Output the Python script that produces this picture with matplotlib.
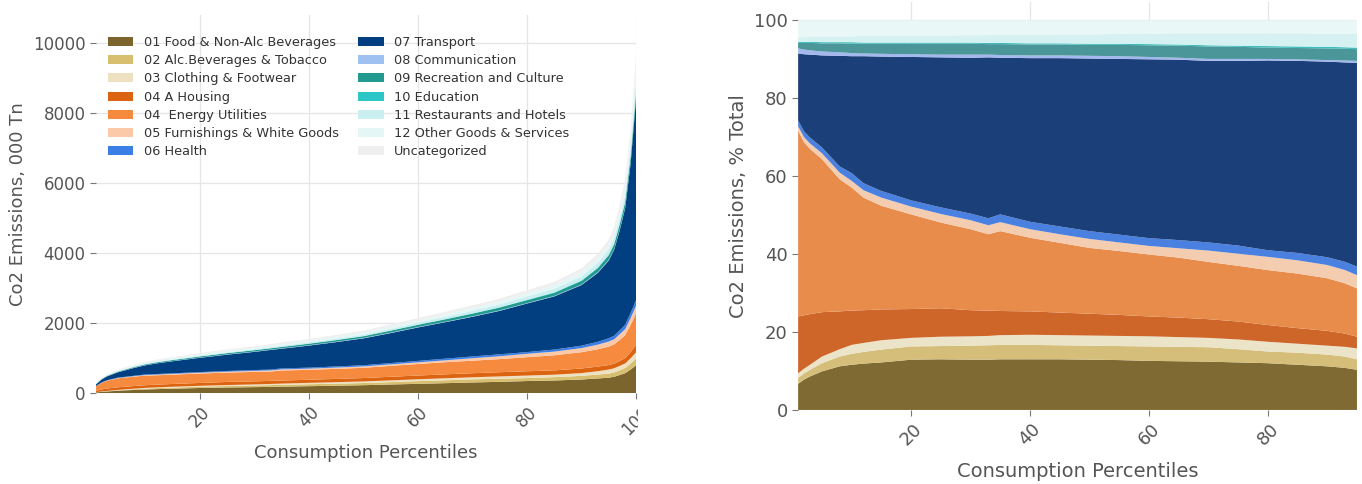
import numpy as np
import matplotlib
matplotlib.use("Agg")
import matplotlib.pyplot as plt
from matplotlib.transforms import Bbox, TransformedBbox

# consumption percentiles where the series were sampled
percentiles = [1, 2, 3, 5, 8, 10, 12, 15, 20, 25, 30, 33, 35, 40, 45, 50, 55, 60,
               65, 70, 75, 80, 85, 90, 93, 95, 96, 97, 98, 99, 100]

# categorised CO2 total per percentile, 000 Tn
total = [270, 420, 520, 650, 790, 870, 930, 1000, 1110, 1210, 1300, 1360, 1400, 1500,
         1610, 1730, 1900, 2080, 2250, 2430, 2620, 2850, 3080, 3450, 3850, 4250, 4600,
         5200, 5900, 7300, 9300]
uncategorized = [8, 10, 12, 15, 18, 20, 22, 25, 30, 33, 36, 38, 40, 43, 47, 50, 55, 60,
                 66, 72, 78, 85, 95, 110, 125, 140, 150, 170, 200, 240, 300]

# upper edge of every band, % of categorised total
food_top = [6.7, 7.8, 8.6, 9.9, 11.2, 11.6, 11.9, 12.2, 12.9, 13.0, 12.9, 12.9, 13.0, 13.0,
            13.0, 12.9, 12.8, 12.6, 12.5, 12.4, 12.2, 12.0, 11.6, 11.2, 10.8, 10.3, 10.1,
            9.9, 9.6, 9.2, 8.5]
alc_top = [8.2, 9.4, 10.3, 12.0, 13.7, 14.4, 14.9, 15.5, 16.3, 16.4, 16.5, 16.6, 16.7, 16.7,
           16.6, 16.5, 16.4, 16.3, 16.2, 16.1, 15.6, 15.0, 14.7, 14.2, 13.7, 13.0, 12.8,
           12.5, 12.1, 11.5, 10.6]
clothing_top = [9.4, 10.6, 11.6, 13.7, 15.6, 16.7, 17.2, 17.9, 18.5, 18.8, 18.9, 19.0, 19.2,
                19.3, 19.2, 19.1, 19.0, 18.9, 18.7, 18.5, 18.1, 17.5, 17.0, 16.5, 16.2, 15.8,
                15.4, 14.9, 14.3, 13.6, 12.5]
housing_top = [24.0, 24.3, 24.6, 25.1, 25.3, 25.5, 25.6, 25.8, 25.9, 26.1, 25.6, 25.5, 25.4,
               25.3, 25.0, 24.7, 24.4, 24.0, 23.7, 23.3, 22.7, 21.8, 21.0, 20.3, 19.6, 18.8,
               18.2, 17.6, 16.9, 16.0, 14.8]
energy_top = [71.7, 68.7, 67.0, 64.4, 59.2, 57.1, 54.5, 52.4, 50.2, 48.1, 46.4, 45.1, 45.9,
              44.2, 42.9, 41.6, 40.8, 39.9, 39.1, 38.0, 37.0, 35.9, 35.0, 33.8, 32.5, 31.2,
              30.2, 29.2, 28.0, 26.6, 24.5]
furnishings_top = [72.8, 70.0, 68.4, 65.9, 60.9, 58.8, 56.4, 54.5, 52.2, 50.3, 48.7, 47.4,
                   48.2, 46.4, 45.1, 43.9, 43.0, 42.1, 41.5, 40.9, 40.1, 39.3, 38.4, 37.2,
                   35.9, 34.6, 33.4, 32.3, 30.9, 29.3, 26.8]
health_top = [74.3, 71.5, 69.9, 67.4, 62.5, 60.8, 58.2, 56.2, 53.8, 52.0, 50.4, 49.2, 50.2,
              48.3, 47.1, 45.9, 45.0, 44.1, 43.6, 43.0, 42.2, 41.0, 40.3, 39.2, 38.0, 36.8,
              35.6, 34.4, 33.0, 31.3, 28.5]
transport_top = [91.5, 91.3, 91.2, 91.0, 90.9, 90.8, 90.8, 90.7, 90.6, 90.5, 90.4, 90.5, 90.4,
                 90.3, 90.3, 90.2, 90.1, 90.0, 89.9, 89.6, 89.6, 89.7, 89.6, 89.4, 89.2, 89.1,
                 89.2, 89.3, 89.5, 89.8, 90.3]
comm_top = [92.8, 92.5, 92.3, 92.0, 91.8, 91.6, 91.5, 91.4, 91.3, 91.2, 91.2, 91.2, 91.1,
            91.0, 91.0, 90.9, 90.8, 90.6, 90.4, 90.1, 90.1, 90.1, 90.0, 89.8, 89.7, 89.6,
            89.6, 89.7, 89.8, 90.1, 90.5]
recreation_top = [94.2, 94.2, 94.2, 94.1, 94.1, 94.0, 94.0, 94.0, 94.0, 94.0, 94.0, 93.9, 93.9,
                  93.8, 93.8, 93.7, 93.7, 93.6, 93.5, 93.3, 93.2, 93.0, 92.9, 92.8, 92.7,
                  92.6, 92.5, 92.5, 92.4, 92.4, 92.4]
education_top = [94.5, 94.5, 94.5, 94.4, 94.4, 94.4, 94.3, 94.3, 94.3, 94.3, 94.3, 94.2, 94.2,
                 94.1, 94.1, 94.0, 94.0, 93.9, 93.8, 93.6, 93.5, 93.4, 93.3, 93.2, 93.1,
                 93.0, 92.9, 92.9, 92.8, 92.8, 92.7]
restaurants_top = [95.6, 95.7, 95.7, 95.8, 95.9, 95.9, 96.0, 96.0, 96.1, 96.1, 96.2, 96.2,
                   96.3, 96.3, 96.4, 96.4, 96.5, 96.6, 96.7, 96.7, 96.7, 96.7, 96.7, 96.6,
                   96.6, 96.6, 96.5, 96.4, 96.3, 96.2, 96.0]
other_top = [100.0] * len(percentiles)

labels = ['01 Food & Non-Alc Beverages', '02 Alc.Beverages & Tobacco', '03 Clothing & Footwear',
          '04 A Housing', '04  Energy Utilities', '05 Furnishings & White Goods', '06 Health',
          '07 Transport', '08 Communication', '09 Recreation and Culture', '10 Education',
          '11 Restaurants and Hotels', '12 Other Goods & Services', 'Uncategorized']

colors = ['#7c652d', '#d8bf6f', '#ede1c2', '#dc6410', '#f68a3f', '#fbc8a8', '#3b7fe6',
          '#023f80', '#9fc1f2', '#239a8f', '#2cc6c6', '#c9eff0', '#e4f7f6', '#efefef']
share_colors = ['#7f6a33', '#d4be7a', '#ece4c8', '#cf6629', '#e88c4c', '#f4cdb0', '#4a80e0',
                '#1b3f78', '#a3b8ee', '#4a9698', '#3fbfbc', '#d6f1f1', '#eaf7f7']

tops = np.array([food_top, alc_top, clothing_top, housing_top, energy_top, furnishings_top,
                 health_top, transport_top, comm_top, recreation_top, education_top,
                 restaurants_top, other_top])
shares = np.diff(np.vstack([np.zeros(len(percentiles)), tops]), axis=0)
x = np.array(percentiles)
absolute = shares * np.array(total) / 100.0

plt.rcParams['font.family'] = 'DejaVu Sans'
txt = '#555555'

fig = plt.figure(figsize=(13.62, 4.84), dpi=100)
ax1 = fig.add_axes([0.0705, 0.188, 0.3965, 0.781])
ax2 = fig.add_axes([0.586, 0.153, 0.4103, 0.842])

for ax, tsize, lsize, pad in ((ax1, 12, 13, 4), (ax2, 13, 14, 9)):
    ax.set_axisbelow(True)
    ax.grid(color='#e6e6e6', linewidth=0.9)
    for s in ax.spines.values():
        s.set_visible(False)
    ax.tick_params(colors='#777777', labelcolor=txt, labelsize=tsize, length=4, width=0.8)
    ax.set_xlabel('Consumption Percentiles', color=txt, fontsize=lsize, labelpad=pad)

# absolute emissions
polys = ax1.stackplot(x, np.vstack([absolute, uncategorized]), colors=colors,
                      labels=labels, linewidth=0)
ax1.set_xlim(1, 100)
ax1.set_ylim(0, 10800)
ax1.set_yticks(range(0, 10001, 2000))
ax1.set_xticks([20, 40, 60, 80, 100])
ax1.set_ylabel('Co2 Emissions, 000 Tn', color=txt, fontsize=13)
for t in ax1.get_xticklabels():
    t.set_rotation(45)
ax1.legend(loc='upper left', bbox_to_anchor=(0.0, 0.975), ncol=2, frameon=False,
           fontsize=9.3, labelcolor='#333333', handlelength=2.0, columnspacing=1.5,
           labelspacing=0.4)

# share of total, up to the 95th percentile
keep = x <= 95
ax2.stackplot(x[keep], shares[:, keep], colors=share_colors, linewidth=0)
ax2.set_xlim(1, 95)
ax2.set_ylim(0, 104.6)
ax2.set_yticks(range(0, 101, 20))
ax2.set_xticks([20, 40, 60, 80])
ax2.set_ylabel('Co2 Emissions, % Total', color=txt, fontsize=14)
for t in ax2.get_xticklabels():
    t.set_rotation(45)

# the last left tick label is cut at the panel edge
fig.canvas.draw()
cut = TransformedBbox(Bbox([[0, 0], [0.4685, 1]]), fig.transFigure)
lab = ax1.get_xticklabels()[-1]
lab.set_clip_on(True)
lab.set_clip_box(cut)

fig.savefig('out.png', dpi=100)
